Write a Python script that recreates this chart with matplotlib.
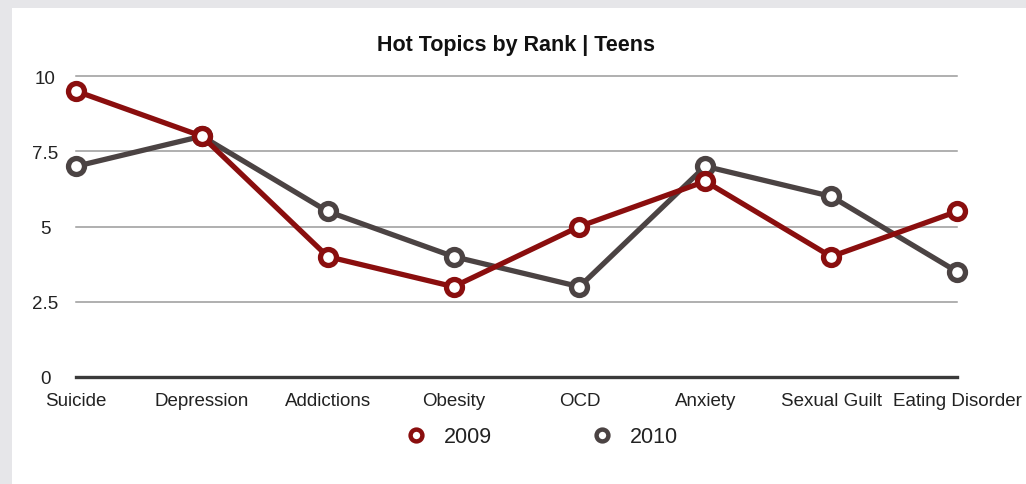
import matplotlib
matplotlib.use("Agg")
import matplotlib.pyplot as plt
from matplotlib.patches import Rectangle
from matplotlib.lines import Line2D

# Topic ranks per year
topics = ["Suicide", "Depression", "Addictions", "Obesity", "OCD",
          "Anxiety", "Sexual Guilt", "Eating Disorder"]
rank_2009 = [9.5, 8, 4, 3, 5, 6.5, 4, 5.5]
rank_2010 = [7, 8, 5.5, 4, 3, 7, 6, 3.5]
y_ticks = [0, 2.5, 5, 7.5, 10]
y_labels = ["0", "2.5", "5", "7.5", "10"]

RED = "#8a0e0e"
GRAY = "#4b4343"

plt.rcParams["font.family"] = ["Liberation Sans", "DejaVu Sans"]

fig = plt.figure(figsize=(10.26, 4.85), dpi=100, facecolor="white")

# grey window frame on top and left
fig.patches.append(Rectangle((0, 1 - 9 / 485), 1, 9 / 485, transform=fig.transFigure,
                             facecolor="#e6e6e9", edgecolor="none", zorder=0))
fig.patches.append(Rectangle((0, 0), 12 / 1026, 1, transform=fig.transFigure,
                             facecolor="#e6e6e9", edgecolor="none", zorder=0))

ax = fig.add_axes([76 / 1026, 107 / 485, 881 / 1026, 301 / 485])
x = list(range(len(topics)))

for yv in y_ticks[1:]:
    ax.axhline(yv, color="#9a9a9a", lw=1.1, zorder=1, clip_on=False)
ax.axhline(0, color="#3a3a3a", lw=2.4, zorder=1, clip_on=False)

ax.plot(x, rank_2010, color=GRAY, lw=3.8, marker="o", ms=11.5, mew=3.8,
        mfc="white", mec=GRAY, clip_on=False, zorder=3)
ax.plot(x, rank_2009, color=RED, lw=3.8, marker="o", ms=11.5, mew=3.8,
        mfc="white", mec=RED, clip_on=False, zorder=4)

ax.set_xlim(0, len(topics) - 1)
ax.set_ylim(0, 10)
ax.set_xticks(x)
ax.set_xticklabels(topics, fontsize=13.5, color="#222222")
ax.set_yticks(y_ticks)
ax.set_yticklabels(y_labels, fontsize=13.5, color="#222222", ha="center")
ax.tick_params(axis="x", length=0, pad=11)
ax.tick_params(axis="y", length=0, pad=22)
for s in ax.spines.values():
    s.set_visible(False)

fig.text(516 / 1026, 1 - 46 / 485, "Hot Topics by Rank | Teens", ha="center",
         va="center", fontsize=15.5, fontweight="bold", color="#111111")

handles = [Line2D([], [], ls="none", marker="o", ms=8.5, mew=3.2, mfc="white", mec=RED),
           Line2D([], [], ls="none", marker="o", ms=8.5, mew=3.2, mfc="white", mec=GRAY)]
fig.legend(handles, ["2009", "2010"], loc="center", ncol=2, frameon=False,
           bbox_to_anchor=(542 / 1026, 47 / 485), fontsize=15.5, handlelength=1,
           handletextpad=0.8, columnspacing=4.6, borderpad=0, labelcolor="#222222")

fig.savefig("out.png", dpi=100, facecolor="white")
